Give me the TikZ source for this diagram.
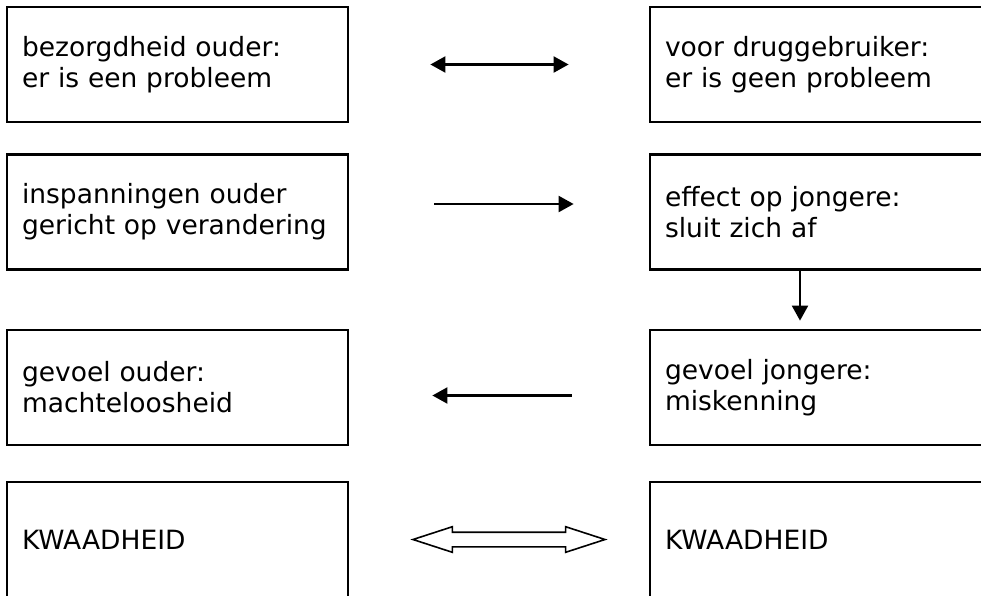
\documentclass[tikz,border=0pt]{standalone}
\usepackage{fontspec}
\setmainfont{DejaVu Sans}
\usetikzlibrary{positioning,arrows.meta,shapes.arrows}

\begin{document}
\begin{tikzpicture}[
      x=1pt,y=-1pt,
      box/.style={draw,line width=2.8pt,minimum height=115pt,inner xsep=15pt,align=left,font=\fontsize{26.5}{31}\selectfont},
      ouder/.style={text width=311pt},
      jongere/.style={text width=330pt},
      pijl/.style={line width=2.2pt,-{Triangle[length=15pt,width=16pt]}},
      tweepijl/.style={line width=2.2pt,{Triangle[length=15pt,width=16pt]}-{Triangle[length=15pt,width=16pt]}},
      openpijl/.style={draw,double arrow,line width=1.6pt,inner sep=0pt,minimum height=192pt,double arrow head extend=5.5pt,double arrow tip angle=36}]

    \useasboundingbox (0,0) rectangle (981,595);
    \clip (0,0) rectangle (981,595);

    \node[box,ouder]   (zorg)       at (177.5,64.5) {bezorgdheid ouder:\\er is een probleem};
    \node[box,jongere] (geenprob)   at (830,64.5)   {voor druggebruiker:\\er is geen probleem};

    \node[box,ouder]   (inspan)     at (177.5,212)  {inspanningen ouder\\gericht op verandering};
    \node[box,jongere] (effect)     at (830,212)    {effect op jongere:\\sluit zich af};

    \node[box,ouder]   (machteloos) at (177.5,387.5) {gevoel ouder:\\machteloosheid};
    \node[box,jongere] (miskenning) at (830,387.5)  {gevoel jongere:\\miskenning};

    \node[box,ouder]   (kwaad1)     at (177.5,539.5) {KWAADHEID};
    \node[box,jongere] (kwaad2)     at (830,539.5)  {KWAADHEID};

    \draw[tweepijl,shorten <=81pt,shorten >=80pt] (zorg) -- (geenprob);
    \draw[pijl,shorten <=85pt,shorten >=75pt] ([yshift=8pt]inspan.east) -- ([yshift=8pt]effect.west);
    \draw[pijl,shorten <=77pt,shorten >=83pt] ([yshift=-8pt]miskenning.west) -- ([yshift=-8pt]machteloos.east);
    \draw[pijl,shorten >=8pt] ([xshift=-30pt]effect.south) -- ([xshift=-30pt]miskenning.north);

    \node[openpijl,right=61pt of kwaad1] (woede) {\rule{0pt}{13pt}};
  \end{tikzpicture}
\end{document}
